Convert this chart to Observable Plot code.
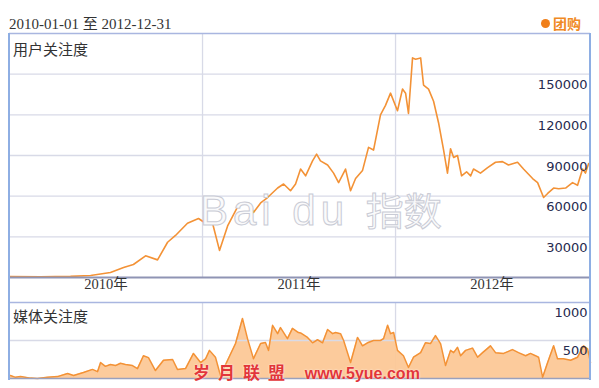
<!DOCTYPE html>
<html><head><meta charset="utf-8">
<script src="https://cdn.jsdelivr.net/npm/d3@7"></script>
<script src="https://cdn.jsdelivr.net/npm/@observablehq/plot@0.6"></script>
<style>
body{margin:0;background:#fff;}
#wrap{position:relative;width:599px;height:388px;overflow:hidden;font-family:"Noto Sans CJK SC",sans-serif;background:#fff;}
#wrap svg{position:absolute;left:0;background:transparent;}
.abs{position:absolute;white-space:nowrap;}
#title{left:9px;top:12px;font:15px "Liberation Serif","Noto Sans CJK SC",serif;color:#333;}
#legend{left:541px;top:13px;font:bold 14px "Noto Sans CJK SC",sans-serif;color:#f08a24;}
#legend .dot{display:inline-block;width:9px;height:9px;border-radius:50%;background:#f07f1a;margin-right:3px;vertical-align:1px;}
.panelTitle{left:13px;font:15px "Noto Sans CJK SC",sans-serif;color:#333;z-index:3;}
.border{position:absolute;top:33px;width:2px;height:347px;background:#8eaee3;z-index:4;}
#wm{left:200px;top:181px;font:42px "Liberation Sans",sans-serif;color:#fafafb;-webkit-text-stroke:1px #c9cbd5;z-index:1;letter-spacing:5px;}
#wm .cn{font:38px "Noto Sans CJK SC",sans-serif;letter-spacing:0;}
#wm2{left:193px;top:362px;font:bold 17px "Noto Sans CJK SC",sans-serif;color:#e2353a;letter-spacing:8px;z-index:6;text-shadow:0 0 2px #fff;line-height:20px;}
#wm2 span{font:bold 16px "Liberation Sans",sans-serif;letter-spacing:0;}
</style></head><body>
<div id="wrap">
  <div id="title" class="abs">2010-01-01 至 2012-12-31</div>
  <div id="legend" class="abs"><span class="dot"></span>团购</div>
  <div id="wm" class="abs">Bai du <span class="cn">指数</span></div>
  <div id="main"></div>
  <div id="media"></div>
  <div class="abs panelTitle" style="top:38px">用户关注度</div>
  <div class="abs panelTitle" style="top:305px">媒体关注度</div>
  <div class="border" style="left:8px"></div>
  <div class="border" style="left:589px"></div>
  <div id="wm2" class="abs">岁月联盟 <span>www.5yue.com</span></div>
</div>
<script>
// Fractional years (e.g. 2010.5 = mid-2010)
const userYear = [2010.000,2010.161,2010.316,2010.420,2010.523,2010.591,2010.642,2010.705,2010.767,2010.819,
  2010.860,2010.922,2010.979,2011.016,2011.052,2011.088,2011.130,2011.181,2011.212,2011.238,
  2011.264,2011.301,2011.337,2011.389,2011.420,2011.456,2011.482,2011.508,2011.534,2011.570,
  2011.591,2011.611,2011.648,2011.679,2011.705,2011.741,2011.767,2011.793,2011.829,2011.860,
  2011.886,2011.922,2011.948,2011.974,2012.010,2012.036,2012.052,2012.067,2012.088,2012.104,
  2012.130,2012.145,2012.171,2012.197,2012.223,2012.249,2012.269,2012.285,2012.301,2012.321,
  2012.342,2012.368,2012.389,2012.404,2012.440,2012.477,2012.518,2012.554,2012.585,2012.632,
  2012.663,2012.710,2012.736,2012.767,2012.788,2012.819,2012.845,2012.881,2012.917,2012.943,
  2012.969,2012.984,2013.000];
const userValues = [700,600,800,1500,3700,7400,9600,16000,13000,26000,
  31000,40000,43500,40000,40000,20000,38000,52000,55000,55000,
  48000,55000,59000,66000,69000,64000,69000,80000,75000,86000,
  91000,86000,83000,77000,70000,80000,64000,73000,79000,96000,
  94000,120000,127000,136000,123000,139000,136000,121000,162000,161000,
  162000,142000,139000,130000,114000,94000,77000,95000,88500,90000,
  75000,78000,75000,80000,77000,81000,85000,85500,83000,85000,
  80000,73000,70000,59000,62000,66000,65500,66000,70000,68000,
  80000,77000,84000];
const mediaYear = [2010.005,2010.031,2010.057,2010.109,2010.145,2010.197,2010.249,2010.301,2010.332,2010.383,
  2010.430,2010.456,2010.472,2010.497,2010.523,2010.549,2010.575,2010.601,2010.637,2010.663,
  2010.694,2010.720,2010.756,2010.798,2010.845,2010.870,2010.912,2010.953,2010.990,2011.016,
  2011.036,2011.067,2011.093,2011.130,2011.171,2011.207,2011.233,2011.264,2011.301,2011.326,
  2011.342,2011.363,2011.389,2011.404,2011.440,2011.466,2011.497,2011.508,2011.544,2011.570,
  2011.596,2011.622,2011.648,2011.674,2011.689,2011.715,2011.731,2011.767,2011.803,2011.829,
  2011.855,2011.886,2011.922,2011.938,2011.959,2011.974,2011.990,2012.010,2012.041,2012.067,
  2012.093,2012.130,2012.155,2012.181,2012.207,2012.233,2012.259,2012.285,2012.301,2012.321,
  2012.337,2012.363,2012.399,2012.425,2012.451,2012.492,2012.518,2012.560,2012.606,2012.637,
  2012.674,2012.699,2012.725,2012.741,2012.762,2012.788,2012.819,2012.839,2012.870,2012.907,
  2012.943,2012.974,2012.995,2013.010];
const mediaValues = [40,15,25,5,0,15,25,65,40,80,
  120,90,210,160,185,170,200,185,170,130,
  300,275,105,240,250,120,130,330,210,260,
  370,280,40,240,460,790,525,260,460,475,
  370,700,590,670,525,660,605,600,540,470,
  510,470,645,590,605,590,500,210,540,430,
  470,500,500,525,700,590,605,370,300,145,
  280,340,470,460,565,460,170,370,340,410,
  300,370,400,280,340,430,340,330,380,340,
  300,330,300,280,15,210,430,260,260,240,
  280,430,390,210];
const yearLabels = ["2010年","2011年","2012年"];
const yearMid = [2010.5, 2011.5, 2012.5];
const yearStarts = [2011, 2012];
const userTicks = [30000,60000,90000,120000,150000];
const userMax = 180000;
const mediaTicks = [500,1000];
const mediaMax = 1000;
const xStart = 2010, xEnd = 2013.01;

const toDate = y => new Date(Date.UTC(2010,0,1) + (y-2010)*365.25*864e5);
const user = userYear.map((y,i)=>({date:toDate(y), value:userValues[i]}));
const media = mediaYear.map((y,i)=>({date:toDate(y), value:mediaValues[i]}));
const xDomain = [toDate(xStart), toDate(xEnd)];
const grid = "#d8dae7", lineC = "#f39236";

const main = Plot.plot({
  width:599, height:274, marginTop:5, marginBottom:25, marginLeft:9, marginRight:9,
  x:{type:"utc", domain:xDomain, axis:null},
  y:{domain:[0,userMax], axis:null},
  style:{background:"transparent", overflow:"visible"},
  marks:[
    Plot.ruleY(userTicks, {stroke:grid, strokeWidth:1.3}),
    Plot.ruleX(yearStarts.map(toDate), {stroke:grid, strokeWidth:1.3}),
    Plot.ruleY([userMax], {stroke:"#a9b6e0", strokeWidth:1.5}),
    Plot.line(user, {x:"date", y:"value", stroke:lineC, strokeWidth:1.6}),
    Plot.ruleY([0], {stroke:"#8f94b4", strokeWidth:1.8}),
    Plot.text(userTicks, {y:d=>d, frameAnchor:"right", textAnchor:"end", dx:-3, dy:11, text:d=>String(d), fontSize:13, fill:"#262a4e", fontFamily:"DejaVu Sans"}),
    Plot.text(yearMid.map(toDate), {x:d=>d, frameAnchor:"bottom", dy:11, text:(d,i)=>yearLabels[i], fontSize:14.5, fill:"#333", fontFamily:"Liberation Serif, Noto Sans CJK SC"})
  ]
});
main.style.top = "28px";
document.getElementById("main").appendChild(main);

const med = Plot.plot({
  width:599, height:92, marginTop:5, marginBottom:11, marginLeft:9, marginRight:9,
  x:{type:"utc", domain:xDomain, axis:null},
  y:{domain:[0,mediaMax], axis:null},
  style:{background:"transparent", overflow:"visible"},
  marks:[
    Plot.ruleX(yearStarts.map(toDate), {stroke:grid, strokeWidth:1.3}),
    Plot.areaY(media, {x:"date", y:"value", fill:"#fcc897", fillOpacity:0.95}),
    Plot.ruleY([500], {stroke:grid, strokeWidth:1.3}),
    Plot.line(media, {x:"date", y:"value", stroke:lineC, strokeWidth:1.5}),
    Plot.ruleY([mediaMax], {stroke:"#a9b6e0", strokeWidth:1.5}),
    Plot.ruleY([0], {stroke:"#9aa0bc", strokeWidth:1.5}),
    Plot.text(mediaTicks, {y:d=>d, frameAnchor:"right", textAnchor:"end", dx:-3, dy:10.5, text:d=>String(d), fontSize:13, fill:"#262a4e", fontFamily:"DejaVu Sans"})
  ]
});
med.style.top = "297px";
document.getElementById("media").appendChild(med);
</script>
</body></html>
